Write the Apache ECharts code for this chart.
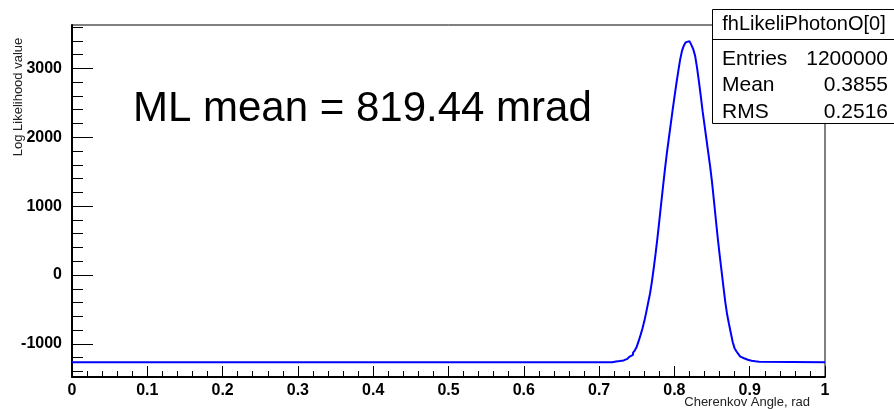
<!DOCTYPE html>
<html>
<head>
<meta charset="utf-8">
<script src="https://cdn.jsdelivr.net/npm/echarts@6/dist/echarts.min.js"></script>
<style>
html,body{margin:0;padding:0;background:#fff;}
#chart{width:894px;height:409px;}
</style>
</head>
<body>
<div id="chart"></div>
<script>
// ---- data ----
const baselineValue = -1265;
const peakFirstEdge = 0.7175;   // left edge of first non-flat bin
const binWidth = 0.0025;
const peakValues = [
  -1260,-1256,-1253,-1249,-1245,-1239,-1229,-1217,-1205,-1187,
  -1160,-1128,-1092,-1040,-960,-872,-780,-672,-545,-410,
  -275,-105,95,310,540,790,1045,1295,1540,1770,
  1975,2180,2385,2580,2770,2950,3120,3250,3330,3378,
  3396,3382,3342,3280,3185,3015,2815,2600,2375,2175,
  1975,1775,1575,1345,1080,810,545,300,70,-160,
  -385,-570,-710,-845,-975,-1065,-1110,-1148,-1185,-1208,
  -1220,-1230,-1238,-1245,-1249,-1253,-1257,-1260
];
const xTickValues = [0,0.1,0.2,0.3,0.4,0.5,0.6,0.7,0.8,0.9,1];
const yMajorTicks = [-1000,0,1000,2000,3000];
const yMinorTicks = [-1400,-1200,-1000,-800,-600,-400,-200,0,200,400,600,800,1000,1200,1400,1600,1800,2000,2200,2400,2600,2800,3000,3200,3400,3600];
const statsTitle = 'fhLikeliPhotonO[0]';
const statsRows = [['Entries','1200000'],['Mean','0.3855'],['RMS','0.2516']];
const annotation = 'ML mean = 819.44 mrad';
const xTitle = 'Cherenkov Angle, rad';
const yTitle = 'Log Likelihood value';

// ---- build histogram step data ----
const histData = [[0, baselineValue]];
peakValues.forEach((v, i) => histData.push([+(peakFirstEdge + i * binWidth).toFixed(5), v]));
histData.push([+(peakFirstEdge + peakValues.length * binWidth).toFixed(5), baselineValue]);
histData.push([1, baselineValue]);

const FONT = '"Liberation Sans", Arial, Helvetica, sans-serif';
const chart = echarts.init(document.getElementById('chart'), null, {renderer: 'canvas'});

const option = {
  animation: false,
  backgroundColor: '#ffffff',
  grid: {left: 72, right: 69, top: 25, bottom: 32, show: true, borderColor: '#000', borderWidth: 1, backgroundColor: 'transparent'},
  xAxis: {
    type: 'value', min: 0, max: 1, interval: 0.1,
    axisLine: {show: true, onZero: false, lineStyle: {color: '#000', width: 2}},
    axisTick: {show: true, inside: true, length: 11, lineStyle: {color: '#000', width: 1}},
    minorTick: {show: true, splitNumber: 5, length: 6, lineStyle: {color: '#000', width: 1}},
    splitLine: {show: false},
    axisLabel: {show: true, margin: 6, color: '#000', fontFamily: FONT, fontWeight: 'bold', fontSize: 16,
      customValues: xTickValues,
      formatter: v => String(Math.round(v * 10) / 10)}
  },
  yAxis: [{
    type: 'value', min: -1480, max: 3630,
    axisLine: {show: true, onZero: false, lineStyle: {color: '#000', width: 2}},
    axisTick: {show: true, inside: true, length: 21, customValues: yMajorTicks, lineStyle: {color: '#000', width: 1}},
    splitLine: {show: false},
    axisLabel: {show: true, margin: 10, color: '#000', fontFamily: FONT, fontWeight: 'bold', fontSize: 16,
      customValues: yMajorTicks, formatter: v => String(Math.round(v))}
  }, {
    type: 'value', min: -1480, max: 3630, position: 'left',
    axisLine: {show: false},
    axisTick: {show: true, inside: true, length: 11, customValues: yMinorTicks, lineStyle: {color: '#000', width: 1}},
    splitLine: {show: false},
    axisLabel: {show: false}
  }],
  series: [{
    type: 'line', step: 'end', data: histData, showSymbol: false, symbol: 'none',
    clip: true, xAxisIndex: 0, yAxisIndex: 0,
    lineStyle: {color: '#0000ff', width: 2}
  }],
  graphic: [
    {type: 'text', z: 100, x: 133, y: 109, style: {text: annotation, font: '42px ' + FONT, fill: '#000', align: 'left', verticalAlign: 'middle'}},
    {type: 'text', z: 100, x: 18, y: 97, rotation: Math.PI / 2, style: {text: yTitle, font: '13px ' + FONT, fill: '#222', align: 'center', verticalAlign: 'middle'}},
    {type: 'text', z: 100, x: 810, y: 402, style: {text: xTitle, font: '13px ' + FONT, fill: '#222', align: 'right', verticalAlign: 'middle'}},
    {type: 'rect', z: 100, shape: {x: 712.5, y: 9.5, width: 190, height: 114}, style: {fill: '#fff', stroke: '#000', lineWidth: 1}},
    {type: 'line', z: 101, shape: {x1: 712.5, y1: 39.5, x2: 894, y2: 39.5}, style: {stroke: '#000', lineWidth: 1}},
    {type: 'text', z: 102, x: 804, y: 24, style: {text: statsTitle, font: '20px ' + FONT, fill: '#000', align: 'center', verticalAlign: 'middle'}},
    ...statsRows.flatMap((r, i) => [
      {type: 'text', z: 102, x: 722, y: 59 + i * 26.5, style: {text: r[0], font: '21px ' + FONT, fill: '#000', align: 'left', verticalAlign: 'middle'}},
      {type: 'text', z: 102, x: 888, y: 59 + i * 26.5, style: {text: r[1], font: '21px ' + FONT, fill: '#000', align: 'right', verticalAlign: 'middle'}}
    ])
  ]
};
chart.setOption(option);
</script>
</body>
</html>
